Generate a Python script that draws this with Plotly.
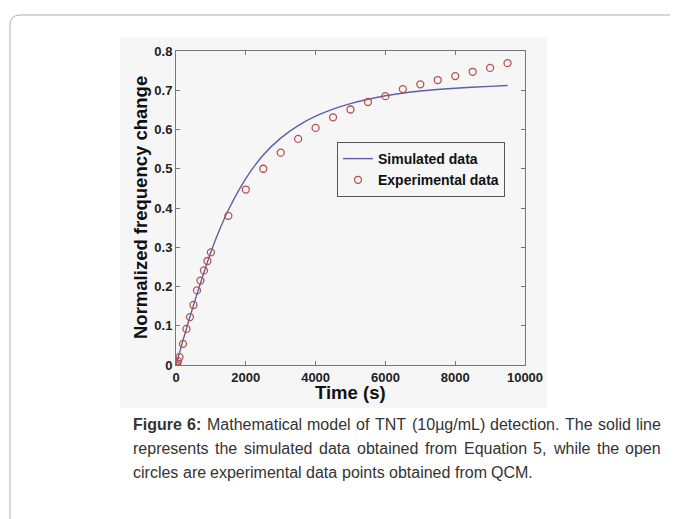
import plotly.graph_objects as go

W, H = 678, 519
OFF = 8  # page body margin of the html page

# ---- data ----
exp_time = [0, 30, 60, 100, 200, 300, 400, 500, 600, 700, 800, 900, 1000,
            1500, 2000, 2500, 3000, 3500, 4000, 4500, 5000, 5500, 6000,
            6500, 7000, 7500, 8000, 8500, 9000, 9500]
exp_value = [0.0, 0.004, 0.01, 0.02, 0.054, 0.092, 0.122, 0.153, 0.19, 0.215,
             0.241, 0.265, 0.287, 0.38, 0.447, 0.50, 0.541, 0.576, 0.604,
             0.631, 0.651, 0.670, 0.685, 0.703, 0.715, 0.726, 0.736, 0.747,
             0.757, 0.769]

sim_time = [0, 250, 500, 750, 1000, 1250, 1500, 2000, 2500, 3000, 3500, 4000,
            4500, 5000, 5500, 6000, 7000, 8000, 9000, 9500]
sim_value = [0.0, 0.078, 0.152, 0.222, 0.288, 0.345, 0.395, 0.475, 0.535,
             0.578, 0.610, 0.634, 0.652, 0.666, 0.677, 0.686, 0.698, 0.705,
             0.710, 0.712]

x_ticks = [0, 2000, 4000, 6000, 8000, 10000]
x_ticklabels = ["0", "2000", "4000", "6000", "8000", "10000"]
y_ticks = [0, 0.1, 0.2, 0.3, 0.4, 0.5, 0.6, 0.7, 0.8]
y_ticklabels = ["0", "0.1", "0.2", "0.3", "0.4", "0.5", "0.6", "0.7", "0.8"]

caption_lines = [
    "Figure 6: Mathematical model of TNT (10µg/mL) detection. The solid line",
    "represents the simulated data obtained from Equation 5, while the open",
    "circles are experimental data points obtained from QCM.",
]
caption_bold_words = 2  # "Figure 6:" is bold

# ---- helpers (reference pixel -> paper; margins are zero) ----
def px(x):
    return (x - OFF) / W

def py(y):
    return 1 - (y - OFF) / H

FONT = "Liberation Sans, Arial, sans-serif"
PANEL = "#f6f6f6"

# Arial / Liberation Sans advance widths (1/1000 em) for justified caption
REG = {' ': 278, '.': 278, ',': 278, ':': 278, '(': 333, ')': 333, '/': 278,
       'µ': 556}
REG.update({c: 556 for c in "0123456789"})
REG.update(dict(a=556, b=556, c=500, d=556, e=556, f=278, g=556, h=556, i=222,
                j=222, k=500, l=222, m=833, n=556, o=556, p=556, q=556, r=333,
                s=500, t=278, u=556, v=500, w=722, x=500, y=500, z=500))
REG.update(dict(A=667, B=667, C=722, D=722, E=667, F=611, G=778, H=722, I=278,
                J=500, K=667, L=556, M=833, N=722, O=778, P=667, Q=778, R=722,
                S=667, T=611, U=722, V=667, W=944, X=667, Y=667, Z=611))
BOLD = dict(REG)
BOLD.update({'F': 611, 'i': 278, 'g': 611, 'u': 611, 'r': 389, 'e': 556,
             ':': 333, '6': 556})

def text_width(s, size, bold=False):
    table = BOLD if bold else REG
    return sum(table.get(ch, 556) for ch in s) * size / 1000.0

fig = go.Figure()
fig.add_trace(go.Scatter(
    x=sim_time, y=sim_value, mode="lines", name="Simulated data",
    line=dict(color="#5d5fa8", width=1.4, shape="spline", smoothing=0.8),
))
fig.add_trace(go.Scatter(
    x=exp_time, y=exp_value, mode="markers", name="Experimental data",
    marker=dict(symbol="circle-open", size=7, color="#b5524f",
                line=dict(width=1.3, color="#b5524f")),
))

axis_common = dict(
    showline=True, linecolor="#777777", linewidth=1, mirror="ticks",
    ticks="inside", ticklen=4, tickcolor="#777777", showgrid=False,
    zeroline=False, automargin=False,
    tickfont=dict(family=FONT, size=13, color="#222222", weight="bold"),
)

fig.update_layout(
    width=W, height=H,
    margin=dict(l=0, r=0, t=0, b=0),
    paper_bgcolor="white",
    plot_bgcolor=PANEL,
    showlegend=True,
    xaxis=dict(range=[0, 10000], tickvals=x_ticks, ticktext=x_ticklabels,
               domain=[px(176), px(525)], **axis_common),
    yaxis=dict(range=[0, 0.8], tickvals=y_ticks, ticktext=y_ticklabels,
               domain=[py(365), py(51)], **axis_common),
    legend=dict(
        x=px(337), y=py(142), xanchor="left", yanchor="top",
        bgcolor=PANEL, bordercolor="#555555", borderwidth=1,
        font=dict(family=FONT, size=14, color="#111111", weight="bold"),
        itemwidth=30, tracegroupgap=0,
    ),
    shapes=[
        # light grey figure panel
        dict(type="rect", xref="paper", yref="paper", layer="below",
             x0=px(120), x1=px(547), y0=py(408), y1=py(37),
             fillcolor=PANEL, line=dict(width=0)),
        # rounded page frame
        dict(type="path", xref="paper", yref="paper", layer="below",
             path=(f"M {px(690)} {py(15)} L {px(20)} {py(15)} "
                   f"Q {px(10)} {py(15)} {px(10)} {py(25)} L {px(10)} {py(530)}"),
             line=dict(color="#b0b0b0", width=1)),
    ],
)

annotations = [
    dict(text="<b>Time (s)</b>", x=px(350), y=py(392), xref="paper", yref="paper",
         showarrow=False, xanchor="center", yanchor="middle",
         font=dict(family=FONT, size=18.5, color="#111111")),
    dict(text="<b>Normalized frequency change</b>", x=px(141), y=py(208),
         xref="paper", yref="paper", showarrow=False, textangle=-90,
         xanchor="center", yanchor="middle",
         font=dict(family=FONT, size=18.5, color="#111111")),
]

# justified caption: each word placed so that lines span x = 132 .. 660
CAP_L, CAP_R, CAP_SIZE = 132, 660, 16
cap_y = [424, 448, 472]
word_index = 0
for li, (line, yy) in enumerate(zip(caption_lines, cap_y)):
    words = line.split(" ")
    bold_flags = []
    for w in words:
        bold_flags.append(word_index < caption_bold_words)
        word_index += 1
    widths = [text_width(w, CAP_SIZE, b) for w, b in zip(words, bold_flags)]
    last_line = li == len(caption_lines) - 1
    if last_line:
        gap = text_width(" ", CAP_SIZE)
    else:
        gap = (CAP_R - CAP_L - sum(widths)) / (len(words) - 1)
    x = CAP_L
    for w, b, wd in zip(words, bold_flags, widths):
        annotations.append(dict(
            text=f"<b>{w}</b>" if b else w, x=px(x), y=py(yy),
            xref="paper", yref="paper", showarrow=False,
            xanchor="left", yanchor="middle", borderpad=0,
            font=dict(family=FONT, size=CAP_SIZE, color="#333333")))
        x += wd + gap

fig.update_layout(annotations=annotations)
fig.write_html("out.html")
